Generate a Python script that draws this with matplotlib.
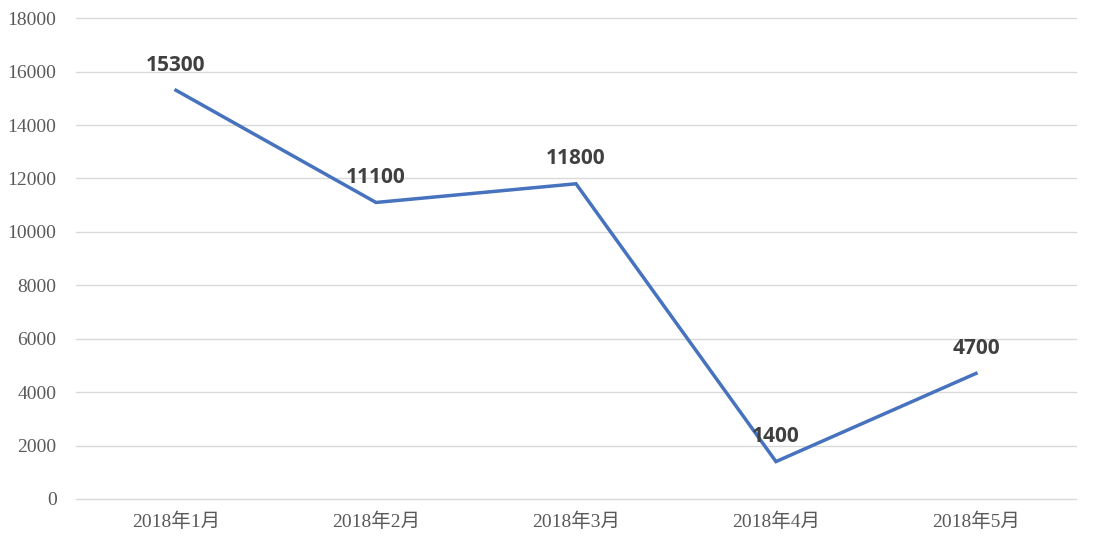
import matplotlib
matplotlib.use('Agg')
import matplotlib.pyplot as plt

months = ['2018年1月', '2018年2月', '2018年3月', '2018年4月', '2018年5月']
values = [15300, 11100, 11800, 1400, 4700]
yticks = list(range(0, 18001, 2000))

tick_font = ['Liberation Serif', 'Noto Sans CJK SC', 'DejaVu Sans']

fig = plt.figure(figsize=(10.94, 5.47), dpi=100)
ax = fig.add_axes([0.0695, 0.0878, 0.914, 0.879])

x = list(range(len(months)))
ax.plot(x, values, color='#4672BE', linewidth=2.5, solid_joinstyle='miter')

for xi, v in zip(x, values):
    ax.annotate(str(v), (xi, v), xytext=(0, 10.5), textcoords='offset points',
                ha='center', va='bottom', fontsize=15, fontweight='bold',
                color='#404040', family=['Open Sans', 'DejaVu Sans'])

ax.set_xlim(-0.5, len(months) - 0.5)
ax.set_ylim(0, 18000)
ax.set_yticks(yticks)
ax.set_yticklabels([str(t) for t in yticks], family=tick_font, fontsize=14, color='#595959')
ax.set_xticks(x)
ax.set_xticklabels(months, family=tick_font, fontsize=14, color='#595959')
ax.tick_params(axis='both', length=0)
ax.tick_params(axis='y', pad=14)
ax.tick_params(axis='x', pad=10)
ax.grid(axis='y', color='#D9D9D9', linewidth=1)
for gl in ax.get_ygridlines():
    gl.set_clip_on(False)
ax.set_axisbelow(True)
for s in ax.spines.values():
    s.set_visible(False)

fig.savefig('out.png', dpi=100)
